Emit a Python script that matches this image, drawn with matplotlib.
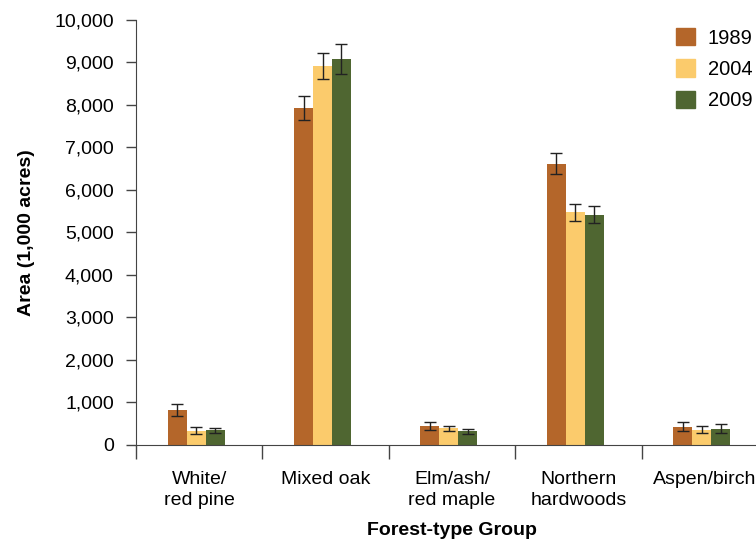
import numpy as np
import matplotlib.pyplot as plt
from matplotlib.patches import Patch

plt.rcParams['font.family'] = ['Liberation Sans', 'DejaVu Sans']

groups = ["White/\nred pine", "Mixed oak", "Elm/ash/\nred maple", "Northern\nhardwoods", "Aspen/birch"]
years = ["1989", "2004", "2009"]
area_1989 = [830, 7930, 450, 6620, 430]
area_2004 = [335, 8920, 390, 5470, 360]
area_2009 = [345, 9080, 320, 5420, 380]
err_1989 = [140, 280, 100, 250, 100]
err_2004 = [80, 300, 60, 200, 90]
err_2009 = [60, 350, 60, 200, 110]

colors = ["#B4662A", "#FBCB6C", "#4F6631"]

fig = plt.figure(figsize=(7.56, 5.4), dpi=100)
ax = fig.add_axes([0.18, 0.176, 0.836, 0.787])

x = np.arange(len(groups))
w = 0.15
series = [(area_1989, err_1989), (area_2004, err_2004), (area_2009, err_2009)]
for i, (vals, errs) in enumerate(series):
    ax.bar(x - 0.025 + (i - 1) * w, vals, width=w, color=colors[i], label=years[i],
           yerr=errs, capsize=4,
           error_kw=dict(ecolor="#222222", elinewidth=1.0, capthick=1.0))

ax.set_xlim(-0.5, 4.5)
ax.set_ylim(0, 10000)
ax.set_yticks(np.arange(0, 10001, 1000))
ax.set_yticklabels([f"{v:,}" for v in range(0, 10001, 1000)])
ax.set_xticks(x)
ax.set_xticklabels(groups, linespacing=1.25)
ax.set_xticks(np.arange(-0.5, 5, 1), minor=True)
ax.tick_params(axis="x", which="major", length=0, labelsize=14, pad=19)
ax.tick_params(axis="x", which="minor", length=10, width=1, color="#444444")
ax.tick_params(axis="y", length=7, width=1, color="#444444", labelsize=14, pad=9)

for s in ["top", "right"]:
    ax.spines[s].set_visible(False)
ax.spines["left"].set_color("#444444")
ax.spines["bottom"].set_color("#444444")

ax.set_ylabel("Area (1,000 acres)", fontsize=14, fontweight="bold", labelpad=14)
ax.set_xlabel("Forest-type Group", fontsize=14, fontweight="bold", labelpad=10)

handles = [Patch(color=c) for c in colors]
fig.legend(handles, years, loc="upper left", bbox_to_anchor=(0.883, 0.963),
           frameon=False, fontsize=14.5, handlelength=0.95, handleheight=0.95,
           labelspacing=0.58, handletextpad=0.65, borderaxespad=0)

fig.savefig("out.png", dpi=100)
